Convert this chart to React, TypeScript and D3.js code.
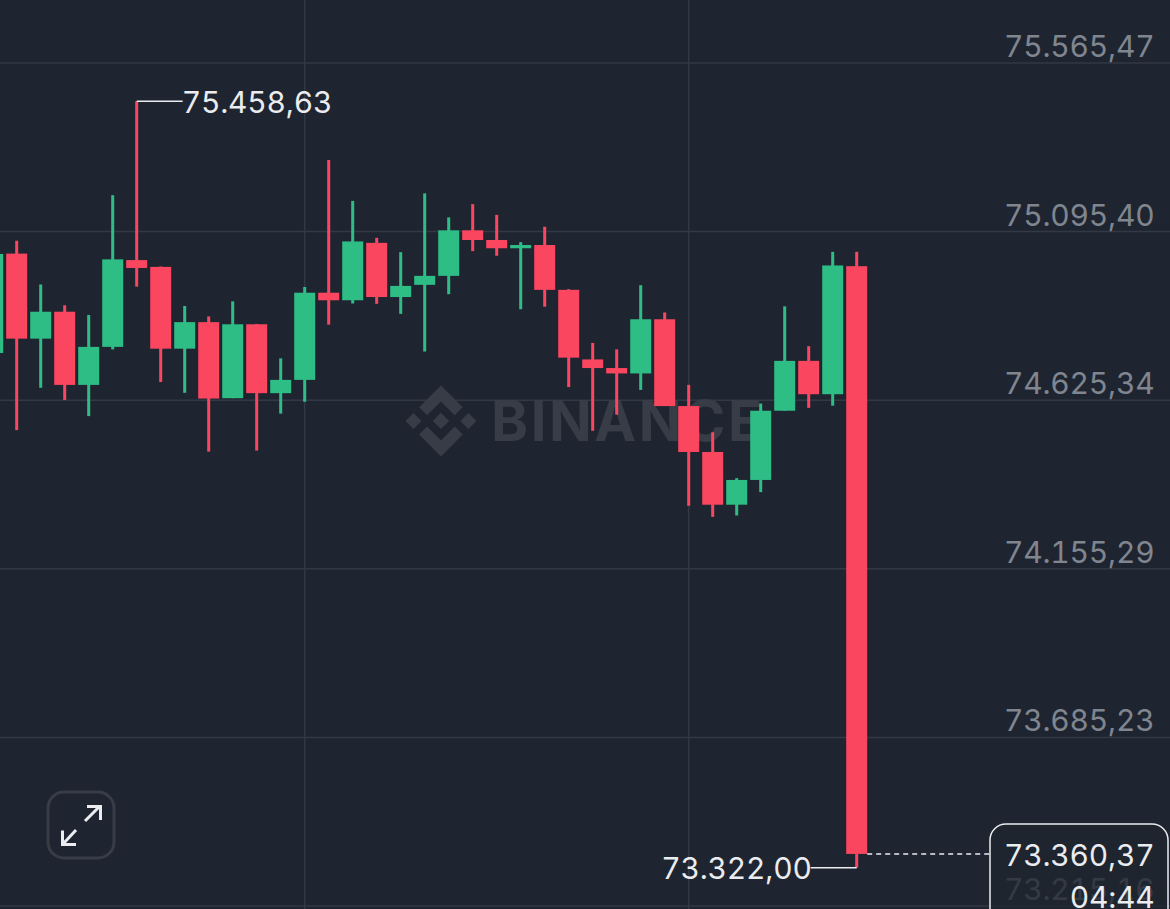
import * as d3 from "d3";

const WIDTH = 1170;
const HEIGHT = 909;

const BG = "#1f2530";
const GRID = "#323844";
const UP = "#2ebd85";
const DOWN = "#fb465f";
const TICK_TEXT = "#80868f";
const LABEL = "#eaecef";
const MARK = "#373c47";
const FONT = "Inter, sans-serif";
const FONT_SIZE = 30;
const TRACKING = -0.2;

const priceTicks = [75565.47, 75095.4, 74625.34, 74155.29, 73685.23, 73215.16];
const gridCandles = [13, 29]; // vertical grid lines sit on these candles

const opens = [
  74757, 75034, 74797, 74872, 74668, 74774, 75016, 74997, 74769, 74843, 74631, 74837, 74645,
  74682, 74925, 74904, 75064, 74913, 74947, 74972, 75099, 75072, 75049, 75058, 74933, 74739,
  74715, 74700, 74851, 74609, 74481, 74334, 74403, 74596, 74735, 74642, 74999,
];
const highs = [
  75033, 75070, 74948, 74890, 74863, 75197, 75458.63, 74998, 74888, 74859, 74901, 74838, 74742,
  74941, 75295, 75181, 75078, 75038, 75202, 75135, 75172, 75142, 75066, 75109, 74935, 74785,
  74767, 74946, 74870, 74668, 74536, 74408, 74616, 74887, 74776, 75039, 75039,
];
const lows = [
  74757, 74542, 74660, 74626, 74581, 74767, 74942, 74676, 74646, 74482, 74631, 74485, 74588,
  74621, 74836, 74895, 74894, 74866, 74761, 74921, 75041, 75028, 74879, 74886, 74662, 74540,
  74585, 74654, 74609, 74331, 74300, 74304, 74369, 74596, 74604, 74610, 73322,
];
const closes = [
  75033, 74797, 74872, 74668, 74774, 75018, 74994, 74769, 74843, 74630, 74837, 74645, 74682,
  74925, 74904, 75068, 74913, 74944, 74972, 75099, 75072, 75049, 75058, 74933, 74744, 74715,
  74700, 74851, 74609, 74481, 74334, 74403, 74596, 74735, 74642, 75001, 73360.37,
];

const highLabel = 75458.63;
const lowLabel = 73322;
const lastPrice = 73360.37;
const countdown = "04:44";

const fmt = d3
  .formatLocale({ decimal: ",", thousands: ".", grouping: [3], currency: ["", ""] })
  .format(",.2f");

const BINANCE_LOGO =
  "M38.73 53.2l24.59-24.58 24.6 24.6 14.3-14.31L63.32 0 24.42 38.9zM0 63.31l14.3-14.31 14.31 14.31-14.31 14.3zM38.73 73.41l24.59 24.59 24.6-24.6 14.31 14.29-38.9 38.91-38.91-38.88v-.03zM98 63.31l14.3-14.31 14.31 14.3-14.31 14.32zM77.83 63.3l-14.51-14.52-10.73 10.73-1.24 1.23-2.54 2.54 14.51 14.5 14.51-14.47z";

const App = () => {
  const y = d3.scaleLinear().domain([priceTicks[0], priceTicks[5]]).range([63, 906]);
  const x = d3.scaleLinear().domain([0, 36]).range([-7.3, 856.7]);

  const bodyWidth = 21;
  const lastX = x(opens.length - 1);

  return (
    <svg
      width={WIDTH}
      height={HEIGHT}
      style={{ position: "fixed", left: 0, top: 0, display: "block", background: BG, fontVariantNumeric: "tabular-nums" }}
      fontFamily={FONT}
      fontSize={FONT_SIZE}
      letterSpacing={TRACKING}
    >
      {/* grid */}
      {priceTicks.map((t) => (
        <line key={t} x1={0} x2={WIDTH} y1={y(t)} y2={y(t)} stroke={GRID} strokeWidth={1.5} />
      ))}
      {gridCandles.map((i) => (
        <line key={i} x1={x(i)} x2={x(i)} y1={0} y2={HEIGHT} stroke={GRID} strokeWidth={1.5} />
      ))}

      {/* watermark */}
      <path d={BINANCE_LOGO} fill={MARK} transform="translate(405.5, 385.5) scale(0.56)" />
      <text x={491} y={441} fontSize={56} fontWeight={700} letterSpacing={2.6} fill={MARK}>
        BINANCE
      </text>

      {/* candles */}
      {opens.map((open, i) => {
        const color = closes[i] >= open ? UP : DOWN;
        const top = y(Math.max(open, closes[i]));
        const bottom = y(Math.min(open, closes[i]));
        return (
          <g key={i} fill={color}>
            <rect x={x(i) - 1.5} width={3} y={y(highs[i])} height={y(lows[i]) - y(highs[i])} />
            <rect x={x(i) - bodyWidth / 2} width={bodyWidth} y={top} height={bottom - top} />
          </g>
        );
      })}

      {/* axis labels */}
      {priceTicks.map((t) => (
        <text key={t} x={1154.5} y={y(t) - 6} textAnchor="end" fill={TICK_TEXT}>
          {fmt(t)}
        </text>
      ))}

      {/* high and low callouts */}
      <line x1={x(6)} x2={x(6) + 46} y1={y(highLabel)} y2={y(highLabel)} stroke={LABEL} strokeWidth={1.5} />
      <text x={x(6) + 45} y={y(highLabel) + 11.5} fill={LABEL}>
        {fmt(highLabel)}
      </text>
      <line x1={lastX - 46} x2={lastX} y1={y(lowLabel)} y2={y(lowLabel)} stroke={LABEL} strokeWidth={1.5} />
      <text x={lastX - 45} y={y(lowLabel) + 11.5} textAnchor="end" fill={LABEL}>
        {fmt(lowLabel)}
      </text>

      {/* last price */}
      <line
        x1={lastX + bodyWidth / 2}
        x2={990}
        y1={y(lastPrice)}
        y2={y(lastPrice)}
        stroke={LABEL}
        strokeWidth={1.5}
        strokeDasharray="5 4"
      />
      <rect x={990} y={824} width={178} height={120} rx={16} fill={BG} fillOpacity={0.78} stroke={LABEL} strokeWidth={1.5} />
      <text x={1154.5} y={866} textAnchor="end" fill={LABEL}>
        {fmt(lastPrice)}
      </text>
      <text x={1154.5} y={908} textAnchor="end" fill={LABEL}>
        {countdown}
      </text>

      {/* expand button */}
      <rect x={48} y={792} width={66} height={66} rx={16} fill="none" stroke={MARK} strokeWidth={3} />
      <g stroke="#eaecef" strokeWidth={3} fill="none">
        <path d="M85 821 L100 806" />
        <path d="M87 806.5 H100.5 V820" />
        <path d="M76 830 L63 844" />
        <path d="M62.5 830.5 V844.5 H76" />
      </g>
    </svg>
  );
};

export default App;
